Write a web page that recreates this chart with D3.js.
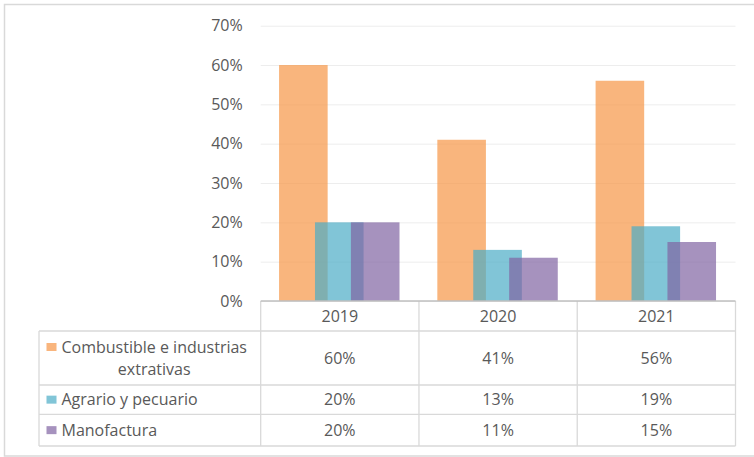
<!DOCTYPE html>
<meta charset="utf-8">
<script src="https://d3js.org/d3.v7.min.js"></script>
<style>
  body { margin: 0; background: #fff; }
  text { font-family: "Open Sans", sans-serif; fill: #595959; }
</style>
<div id="chart"></div>
<script>
// data
var years = ["2019", "2020", "2021"];
var seriesNames = ["Combustible e industrias extrativas", "Agrario y pecuario", "Manofactura"];
var seriesLines = [["Combustible e industrias", "extrativas"], ["Agrario y pecuario"], ["Manofactura"]];
var combustible = [60, 41, 56];
var agrario = [20, 13, 19];
var manofactura = [20, 11, 15];
var yTicks = [0, 10, 20, 30, 40, 50, 60, 70];
var colors = ["#F79646", "#4BACC6", "#8064A2"];

var values = [combustible, agrario, manofactura];

var W = 754, H = 457;
var svg = d3.select("#chart").append("svg")
    .attr("width", W).attr("height", H);

// outer frame
svg.append("rect")
    .attr("x", 4.5).attr("y", 4.5)
    .attr("width", W + 10).attr("height", 451.5)
    .attr("fill", "none").attr("stroke", "#D9D9D9").attr("stroke-width", 1.5);

var x = d3.scaleBand().domain(years).range([260.7, 735.5]);
var y = d3.scaleLinear().domain([0, 70]).range([301, 25.7]);

// gridlines + y labels
var yAxis = svg.append("g")
    .attr("transform", "translate(260.7,0)")
    .call(d3.axisLeft(y).tickValues(yTicks).tickSize(-(735.5 - 260.7)).tickPadding(18)
        .tickFormat(function(d) { return d + "%"; }));
yAxis.select(".domain").remove();
yAxis.selectAll(".tick line").attr("stroke", "#EDEDED");
yAxis.selectAll(".tick text").style("font-size", "16px").attr("fill", "#595959");

// bars
var bw = x.bandwidth() * 0.307,
    step = x.bandwidth() * 0.227,
    off = x.bandwidth() * 0.116;

values.forEach(function(vals, i) {
  svg.append("g").selectAll("rect")
    .data(vals)
    .enter().append("rect")
      .attr("x", function(d, j) { return x(years[j]) + off + i * step; })
      .attr("y", function(d) { return y(d); })
      .attr("width", bw)
      .attr("height", function(d) { return y(0) - y(d); })
      .attr("fill", colors[i])
      .attr("fill-opacity", 0.7);
});

// data table
var rowTops = [331, 385, 414.3, 446];
var tableLeft = 39, tableRight = 735.5;
var grid = svg.append("g").attr("stroke", "#D9D9D9").attr("stroke-width", 1.3);

// horizontal lines
rowTops.forEach(function(r) {
  grid.append("line").attr("x1", tableLeft).attr("x2", tableRight).attr("y1", r).attr("y2", r);
});
// vertical lines
years.forEach(function(yr) {
  grid.append("line").attr("x1", x(yr)).attr("x2", x(yr)).attr("y1", 301).attr("y2", 446);
});
grid.append("line").attr("x1", tableRight).attr("x2", tableRight).attr("y1", 301).attr("y2", 446);
grid.append("line").attr("x1", tableLeft).attr("x2", tableLeft).attr("y1", 331).attr("y2", 446);

// x axis line
svg.append("line")
    .attr("x1", 260.7).attr("x2", 735.5).attr("y1", 301).attr("y2", 301)
    .attr("stroke", "#BFBFBF").attr("stroke-width", 1.3);

// header years
svg.append("g").selectAll("text")
  .data(years).enter().append("text")
    .attr("x", function(d) { return x(d) + x.bandwidth() / 2; })
    .attr("y", 316)
    .attr("dy", "0.35em")
    .attr("text-anchor", "middle")
    .style("font-size", "16px")
    .text(function(d) { return d; });

// rows
values.forEach(function(vals, i) {
  var top = rowTops[i], bot = rowTops[i + 1], mid = (top + bot) / 2;
  var lines = seriesLines[i];
  var firstY = mid - (lines.length - 1) * 11;

  svg.append("rect")
      .attr("x", 46.5).attr("y", firstY - 4)
      .attr("width", 10).attr("height", 8)
      .attr("fill", colors[i]).attr("fill-opacity", 0.7);

  var first = svg.append("text")
      .attr("x", 61.5).attr("y", firstY).attr("dy", "0.35em")
      .style("font-size", "16px")
      .text(lines[0]);
  if (lines.length > 1) {
    var w = first.node().getComputedTextLength();
    svg.append("text")
        .attr("x", 61.5 + w / 2).attr("y", firstY + 22).attr("dy", "0.35em")
        .attr("text-anchor", "middle")
        .style("font-size", "16px")
        .text(lines[1]);
  }

  svg.append("g").selectAll("text")
    .data(vals).enter().append("text")
      .attr("x", function(d, j) { return x(years[j]) + x.bandwidth() / 2; })
      .attr("y", mid).attr("dy", "0.35em")
      .attr("text-anchor", "middle")
      .style("font-size", "16px")
      .text(function(d) { return d + "%"; });
});
</script>
